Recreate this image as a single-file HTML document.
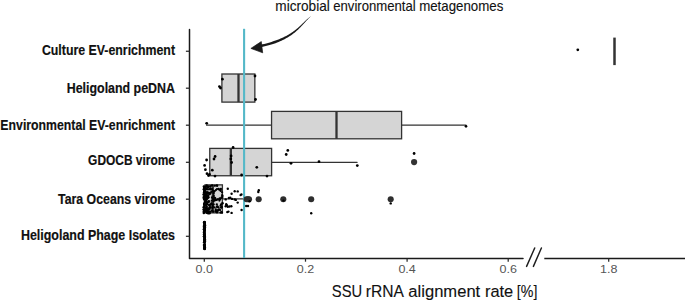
<!DOCTYPE html>
<html><head><meta charset="utf-8"><style>
html,body{margin:0;padding:0;background:#fff;width:685px;height:302px;overflow:hidden}
svg{display:block}
</style></head><body>
<svg width="685" height="302" viewBox="0 0 685 302">

<path d="M189.5,29.4 L189.5,258.4 L523,258.4" fill="none" stroke="#1a1a1a" stroke-width="1.5" stroke-linejoin="round" stroke-linecap="round"/>
<line x1="544.3" y1="258.4" x2="685" y2="258.4" stroke="#1a1a1a" stroke-width="1.5"/>
<line x1="526.6" y1="266.4" x2="534.7" y2="248.0" stroke="#1e1e1e" stroke-width="1.45" stroke-linecap="round"/>
<line x1="533.4" y1="266.4" x2="541.4" y2="248.0" stroke="#1e1e1e" stroke-width="1.45" stroke-linecap="round"/>
<line x1="185.9" y1="51.25" x2="189.5" y2="51.25" stroke="#2a2a2a" stroke-width="1.25"/>
<line x1="185.9" y1="88.2" x2="189.5" y2="88.2" stroke="#2a2a2a" stroke-width="1.25"/>
<line x1="185.9" y1="125.2" x2="189.5" y2="125.2" stroke="#2a2a2a" stroke-width="1.25"/>
<line x1="185.9" y1="162.3" x2="189.5" y2="162.3" stroke="#2a2a2a" stroke-width="1.25"/>
<line x1="185.9" y1="199.2" x2="189.5" y2="199.2" stroke="#2a2a2a" stroke-width="1.25"/>
<line x1="185.9" y1="236.3" x2="189.5" y2="236.3" stroke="#2a2a2a" stroke-width="1.25"/>
<line x1="204.3" y1="258.4" x2="204.3" y2="261.7" stroke="#2a2a2a" stroke-width="1.25"/>
<text transform="translate(204.3,273.4) scale(1.11,1)" text-anchor="middle" font-family="Liberation Sans, sans-serif" font-size="11.3" fill="#555">0.0</text>
<line x1="305.5" y1="258.4" x2="305.5" y2="261.7" stroke="#2a2a2a" stroke-width="1.25"/>
<text transform="translate(305.5,273.4) scale(1.11,1)" text-anchor="middle" font-family="Liberation Sans, sans-serif" font-size="11.3" fill="#555">0.2</text>
<line x1="407.1" y1="258.4" x2="407.1" y2="261.7" stroke="#2a2a2a" stroke-width="1.25"/>
<text transform="translate(407.1,273.4) scale(1.11,1)" text-anchor="middle" font-family="Liberation Sans, sans-serif" font-size="11.3" fill="#555">0.4</text>
<line x1="508.2" y1="258.4" x2="508.2" y2="261.7" stroke="#2a2a2a" stroke-width="1.25"/>
<text transform="translate(508.2,273.4) scale(1.11,1)" text-anchor="middle" font-family="Liberation Sans, sans-serif" font-size="11.3" fill="#555">0.6</text>
<line x1="608.7" y1="258.4" x2="608.7" y2="261.7" stroke="#2a2a2a" stroke-width="1.25"/>
<text transform="translate(608.7,273.4) scale(1.11,1)" text-anchor="middle" font-family="Liberation Sans, sans-serif" font-size="11.3" fill="#555">1.8</text>
<text transform="translate(175,54.8) scale(0.8833,1)" text-anchor="end" font-family="Liberation Sans, sans-serif" font-weight="bold" font-size="14" fill="#111" stroke="#111" stroke-width="0.18">Culture EV-enrichment</text>
<text transform="translate(175,92.9) scale(0.8877,1)" text-anchor="end" font-family="Liberation Sans, sans-serif" font-weight="bold" font-size="14" fill="#111" stroke="#111" stroke-width="0.18">Heligoland peDNA</text>
<text transform="translate(175,129.9) scale(0.8780,1)" text-anchor="end" font-family="Liberation Sans, sans-serif" font-weight="bold" font-size="14" fill="#111" stroke="#111" stroke-width="0.18">Environmental EV-enrichment</text>
<text transform="translate(175,164.9) scale(0.8534,1)" text-anchor="end" font-family="Liberation Sans, sans-serif" font-weight="bold" font-size="14" fill="#111" stroke="#111" stroke-width="0.18">GDOCB virome</text>
<text transform="translate(175,203.9) scale(0.8806,1)" text-anchor="end" font-family="Liberation Sans, sans-serif" font-weight="bold" font-size="14" fill="#111" stroke="#111" stroke-width="0.18">Tara Oceans virome</text>
<text transform="translate(175,239.5) scale(0.8885,1)" text-anchor="end" font-family="Liberation Sans, sans-serif" font-weight="bold" font-size="14" fill="#111" stroke="#111" stroke-width="0.18">Heligoland Phage Isolates</text>
<text transform="translate(331.81,296.9) scale(0.923,1)" font-family="Liberation Sans, sans-serif" font-size="16" fill="#111" stroke="#111" stroke-width="0.12">SSU</text>
<text transform="translate(365.81,296.9) scale(0.977,1)" font-family="Liberation Sans, sans-serif" font-size="16" fill="#111" stroke="#111" stroke-width="0.12">rRNA</text>
<text transform="translate(408.36,296.9) scale(1.036,1)" font-family="Liberation Sans, sans-serif" font-size="16" fill="#111" stroke="#111" stroke-width="0.12">alignment</text>
<text transform="translate(484.95,296.9) scale(1.025,1)" font-family="Liberation Sans, sans-serif" font-size="16" fill="#111" stroke="#111" stroke-width="0.12">rate</text>
<text transform="translate(516.80,296.9) scale(0.89,1)" font-family="Liberation Sans, sans-serif" font-size="16" fill="#111" stroke="#111" stroke-width="0.12">[%]</text>
<text transform="translate(275.33,10.7) scale(0.974,1)" font-family="Liberation Sans, sans-serif" font-size="14" fill="#111" stroke="#111" stroke-width="0.12">microbial</text>
<text transform="translate(333.27,10.7) scale(0.939,1)" font-family="Liberation Sans, sans-serif" font-size="14" fill="#111" stroke="#111" stroke-width="0.12">environmental</text>
<text transform="translate(419.15,10.7) scale(0.95,1)" font-family="Liberation Sans, sans-serif" font-size="14" fill="#111" stroke="#111" stroke-width="0.12">metagenomes</text>
<line x1="614.5" y1="37.6" x2="614.5" y2="65.1" stroke="#333" stroke-width="2.5"/>
<rect x="221.9" y="74.0" width="32.94999999999999" height="28.099999999999994" fill="#d5d5d5" stroke="#333333" stroke-width="1.3"/>
<line x1="238.5" y1="74.0" x2="238.5" y2="102.1" stroke="#333333" stroke-width="2.3"/>
<line x1="206.6" y1="125.15" x2="271.55" y2="125.15" stroke="#333333" stroke-width="1.25" stroke-linecap="round"/>
<line x1="401.6" y1="125.15" x2="466" y2="125.15" stroke="#333333" stroke-width="1.25" stroke-linecap="round"/>
<rect x="271.55" y="111.4" width="130.05" height="27.400000000000006" fill="#d5d5d5" stroke="#333333" stroke-width="1.3"/>
<line x1="336.5" y1="111.4" x2="336.5" y2="138.8" stroke="#333333" stroke-width="2.3"/>
<line x1="271.6" y1="162.3" x2="357.1" y2="162.3" stroke="#333333" stroke-width="1.25" stroke-linecap="round"/>
<rect x="209.76" y="148.4" width="61.84000000000003" height="27.349999999999994" fill="#d5d5d5" stroke="#333333" stroke-width="1.3"/>
<line x1="230.83" y1="148.4" x2="230.83" y2="175.75" stroke="#333333" stroke-width="2.3"/>
<line x1="222.4" y1="198.9" x2="242.5" y2="198.9" stroke="#333333" stroke-width="1.25" stroke-linecap="round"/>
<rect x="205" y="184.85" width="17.400000000000006" height="28.05000000000001" fill="#d5d5d5" stroke="#333333" stroke-width="1.3"/>
<line x1="212.8" y1="184.85" x2="212.8" y2="212.9" stroke="#333333" stroke-width="2.3"/>
<line x1="244.1" y1="28.8" x2="244.1" y2="258" stroke="#54b8c8" stroke-width="2.1"/>
<circle cx="577.8" cy="49.8" r="1.4" fill="#000"/>
<circle cx="222.4" cy="79.2" r="1.38" fill="#000"/>
<circle cx="219.4" cy="86.6" r="1.38" fill="#000"/>
<circle cx="220.5" cy="88.0" r="1.38" fill="#000"/>
<circle cx="255.0" cy="76.0" r="1.38" fill="#000"/>
<circle cx="255.5" cy="99.5" r="1.38" fill="#000"/>
<circle cx="206.7" cy="123.3" r="1.4" fill="#000"/>
<circle cx="466.0" cy="126.3" r="1.35" fill="#000"/>
<circle cx="233.1" cy="147.5" r="1.38" fill="#000"/>
<circle cx="231.1" cy="156.0" r="1.38" fill="#000"/>
<circle cx="231.6" cy="162.5" r="1.38" fill="#000"/>
<circle cx="230.8" cy="159.0" r="1.38" fill="#000"/>
<circle cx="215.1" cy="156.5" r="1.38" fill="#000"/>
<circle cx="214.0" cy="159.0" r="1.38" fill="#000"/>
<circle cx="206.6" cy="160.0" r="1.38" fill="#000"/>
<circle cx="204.6" cy="165.4" r="1.38" fill="#000"/>
<circle cx="205.4" cy="169.7" r="1.38" fill="#000"/>
<circle cx="212.3" cy="170.2" r="1.38" fill="#000"/>
<circle cx="207.0" cy="173.7" r="1.38" fill="#000"/>
<circle cx="209.5" cy="174.5" r="1.38" fill="#000"/>
<circle cx="208.5" cy="175.5" r="1.38" fill="#000"/>
<circle cx="215.0" cy="176.1" r="1.38" fill="#000"/>
<circle cx="241.6" cy="175.0" r="1.38" fill="#000"/>
<circle cx="256.8" cy="167.3" r="1.38" fill="#000"/>
<circle cx="267.0" cy="176.1" r="1.38" fill="#000"/>
<circle cx="287.8" cy="150.4" r="1.38" fill="#000"/>
<circle cx="286.2" cy="154.5" r="1.38" fill="#000"/>
<circle cx="291.0" cy="163.3" r="1.38" fill="#000"/>
<circle cx="319.0" cy="161.7" r="1.38" fill="#000"/>
<circle cx="357.3" cy="165.6" r="1.38" fill="#000"/>
<circle cx="414.1" cy="153.5" r="1.38" fill="#000"/>
<circle cx="414.1" cy="162.1" r="3.1" fill="#333"/>
<circle cx="206.0" cy="189.3" r="1.25" fill="#000"/>
<circle cx="208.2" cy="187.1" r="1.25" fill="#000"/>
<circle cx="207.4" cy="195.4" r="1.25" fill="#000"/>
<circle cx="204.2" cy="199.5" r="1.25" fill="#000"/>
<circle cx="204.1" cy="197.4" r="1.25" fill="#000"/>
<circle cx="204.3" cy="187.6" r="1.25" fill="#000"/>
<circle cx="206.6" cy="208.6" r="1.25" fill="#000"/>
<circle cx="204.6" cy="191.4" r="1.25" fill="#000"/>
<circle cx="208.0" cy="212.0" r="1.25" fill="#000"/>
<circle cx="207.7" cy="196.3" r="1.25" fill="#000"/>
<circle cx="210.3" cy="186.3" r="1.25" fill="#000"/>
<circle cx="209.6" cy="193.3" r="1.25" fill="#000"/>
<circle cx="204.8" cy="188.4" r="1.25" fill="#000"/>
<circle cx="205.9" cy="208.3" r="1.25" fill="#000"/>
<circle cx="205.0" cy="201.6" r="1.25" fill="#000"/>
<circle cx="208.1" cy="195.6" r="1.25" fill="#000"/>
<circle cx="207.5" cy="186.8" r="1.25" fill="#000"/>
<circle cx="204.2" cy="190.9" r="1.25" fill="#000"/>
<circle cx="208.4" cy="197.2" r="1.25" fill="#000"/>
<circle cx="205.9" cy="201.7" r="1.25" fill="#000"/>
<circle cx="206.8" cy="193.5" r="1.25" fill="#000"/>
<circle cx="209.1" cy="204.9" r="1.25" fill="#000"/>
<circle cx="205.4" cy="201.4" r="1.25" fill="#000"/>
<circle cx="207.3" cy="209.9" r="1.25" fill="#000"/>
<circle cx="208.7" cy="193.2" r="1.25" fill="#000"/>
<circle cx="210.4" cy="188.4" r="1.25" fill="#000"/>
<circle cx="206.6" cy="206.6" r="1.25" fill="#000"/>
<circle cx="204.8" cy="198.9" r="1.25" fill="#000"/>
<circle cx="204.1" cy="204.0" r="1.25" fill="#000"/>
<circle cx="208.9" cy="201.3" r="1.25" fill="#000"/>
<circle cx="209.7" cy="193.9" r="1.25" fill="#000"/>
<circle cx="208.5" cy="201.9" r="1.25" fill="#000"/>
<circle cx="207.7" cy="198.0" r="1.25" fill="#000"/>
<circle cx="209.4" cy="211.9" r="1.25" fill="#000"/>
<circle cx="207.0" cy="203.9" r="1.25" fill="#000"/>
<circle cx="204.2" cy="205.0" r="1.25" fill="#000"/>
<circle cx="208.1" cy="213.3" r="1.25" fill="#000"/>
<circle cx="209.3" cy="193.1" r="1.25" fill="#000"/>
<circle cx="206.4" cy="204.1" r="1.25" fill="#000"/>
<circle cx="204.0" cy="198.2" r="1.25" fill="#000"/>
<circle cx="204.9" cy="188.3" r="1.25" fill="#000"/>
<circle cx="204.2" cy="206.9" r="1.25" fill="#000"/>
<circle cx="204.7" cy="192.1" r="1.25" fill="#000"/>
<circle cx="206.4" cy="209.8" r="1.25" fill="#000"/>
<circle cx="204.3" cy="197.8" r="1.25" fill="#000"/>
<circle cx="207.5" cy="210.2" r="1.25" fill="#000"/>
<circle cx="209.3" cy="209.6" r="1.25" fill="#000"/>
<circle cx="205.7" cy="196.8" r="1.25" fill="#000"/>
<circle cx="206.2" cy="210.2" r="1.25" fill="#000"/>
<circle cx="210.2" cy="189.3" r="1.25" fill="#000"/>
<circle cx="205.0" cy="191.6" r="1.25" fill="#000"/>
<circle cx="205.4" cy="198.8" r="1.25" fill="#000"/>
<circle cx="207.7" cy="192.5" r="1.25" fill="#000"/>
<circle cx="203.8" cy="196.9" r="1.25" fill="#000"/>
<circle cx="206.3" cy="201.1" r="1.25" fill="#000"/>
<circle cx="210.2" cy="204.7" r="1.25" fill="#000"/>
<circle cx="207.3" cy="202.6" r="1.25" fill="#000"/>
<circle cx="208.3" cy="186.5" r="1.25" fill="#000"/>
<circle cx="209.8" cy="207.2" r="1.25" fill="#000"/>
<circle cx="209.7" cy="207.7" r="1.25" fill="#000"/>
<circle cx="206.4" cy="196.4" r="1.25" fill="#000"/>
<circle cx="204.5" cy="203.1" r="1.25" fill="#000"/>
<circle cx="204.2" cy="186.9" r="1.25" fill="#000"/>
<circle cx="205.2" cy="189.6" r="1.25" fill="#000"/>
<circle cx="206.1" cy="186.5" r="1.25" fill="#000"/>
<circle cx="203.8" cy="189.3" r="1.25" fill="#000"/>
<circle cx="204.5" cy="195.4" r="1.25" fill="#000"/>
<circle cx="204.0" cy="209.9" r="1.25" fill="#000"/>
<circle cx="207.9" cy="189.2" r="1.25" fill="#000"/>
<circle cx="205.5" cy="194.9" r="1.25" fill="#000"/>
<circle cx="206.2" cy="188.5" r="1.25" fill="#000"/>
<circle cx="209.5" cy="213.3" r="1.25" fill="#000"/>
<circle cx="206.9" cy="198.8" r="1.25" fill="#000"/>
<circle cx="204.4" cy="187.9" r="1.25" fill="#000"/>
<circle cx="206.1" cy="192.5" r="1.25" fill="#000"/>
<circle cx="220.7" cy="189.5" r="1.15" fill="#000"/>
<circle cx="210.8" cy="211.6" r="1.15" fill="#000"/>
<circle cx="217.0" cy="189.1" r="1.15" fill="#000"/>
<circle cx="217.2" cy="185.8" r="1.15" fill="#000"/>
<circle cx="217.0" cy="212.4" r="1.15" fill="#000"/>
<circle cx="221.1" cy="204.5" r="1.15" fill="#000"/>
<circle cx="213.7" cy="195.3" r="1.15" fill="#000"/>
<circle cx="212.6" cy="206.6" r="1.15" fill="#000"/>
<circle cx="217.1" cy="206.8" r="1.15" fill="#000"/>
<circle cx="214.6" cy="191.2" r="1.15" fill="#000"/>
<circle cx="220.5" cy="212.6" r="1.15" fill="#000"/>
<circle cx="221.0" cy="207.6" r="1.15" fill="#000"/>
<circle cx="220.6" cy="205.7" r="1.15" fill="#000"/>
<circle cx="213.3" cy="199.5" r="1.15" fill="#000"/>
<circle cx="214.9" cy="185.8" r="1.15" fill="#000"/>
<circle cx="210.8" cy="192.8" r="1.15" fill="#000"/>
<circle cx="213.7" cy="204.4" r="1.15" fill="#000"/>
<circle cx="222.3" cy="197.5" r="1.15" fill="#000"/>
<circle cx="222.0" cy="212.7" r="1.15" fill="#000"/>
<circle cx="222.2" cy="195.2" r="1.15" fill="#000"/>
<circle cx="213.2" cy="191.4" r="1.15" fill="#000"/>
<circle cx="212.9" cy="190.7" r="1.15" fill="#000"/>
<circle cx="218.2" cy="210.2" r="1.15" fill="#000"/>
<circle cx="220.8" cy="198.4" r="1.15" fill="#000"/>
<circle cx="218.5" cy="207.4" r="1.15" fill="#000"/>
<circle cx="211.5" cy="203.5" r="1.15" fill="#000"/>
<circle cx="221.7" cy="206.9" r="1.15" fill="#000"/>
<circle cx="219.7" cy="198.4" r="1.15" fill="#000"/>
<circle cx="212.7" cy="207.1" r="1.15" fill="#000"/>
<circle cx="214.6" cy="207.4" r="1.15" fill="#000"/>
<circle cx="222.5" cy="196.1" r="1.15" fill="#000"/>
<circle cx="215.4" cy="211.5" r="1.15" fill="#000"/>
<circle cx="219.4" cy="189.8" r="1.15" fill="#000"/>
<circle cx="212.1" cy="189.2" r="1.15" fill="#000"/>
<circle cx="221.6" cy="207.6" r="1.15" fill="#000"/>
<circle cx="212.3" cy="208.1" r="1.15" fill="#000"/>
<circle cx="222.6" cy="203.4" r="1.15" fill="#000"/>
<circle cx="214.8" cy="200.4" r="1.15" fill="#000"/>
<circle cx="212.1" cy="185.4" r="1.15" fill="#000"/>
<circle cx="222.4" cy="203.2" r="1.15" fill="#000"/>
<circle cx="217.0" cy="211.1" r="1.15" fill="#000"/>
<circle cx="215.8" cy="209.4" r="1.15" fill="#000"/>
<circle cx="220.7" cy="190.9" r="1.15" fill="#000"/>
<circle cx="213.6" cy="193.2" r="1.15" fill="#000"/>
<circle cx="213.5" cy="201.4" r="1.15" fill="#000"/>
<circle cx="213.7" cy="196.7" r="1.15" fill="#000"/>
<circle cx="212.1" cy="210.5" r="1.15" fill="#000"/>
<circle cx="214.9" cy="197.8" r="1.15" fill="#000"/>
<circle cx="217.7" cy="210.3" r="1.15" fill="#000"/>
<circle cx="215.7" cy="210.7" r="1.15" fill="#000"/>
<circle cx="216.7" cy="199.9" r="1.15" fill="#000"/>
<circle cx="216.9" cy="185.5" r="1.15" fill="#000"/>
<circle cx="215.9" cy="190.1" r="1.15" fill="#000"/>
<circle cx="210.5" cy="207.4" r="1.15" fill="#000"/>
<circle cx="212.6" cy="198.3" r="1.15" fill="#000"/>
<circle cx="219.4" cy="200.6" r="1.15" fill="#000"/>
<circle cx="214.5" cy="199.5" r="1.15" fill="#000"/>
<circle cx="217.3" cy="207.0" r="1.15" fill="#000"/>
<circle cx="211.8" cy="200.7" r="1.15" fill="#000"/>
<circle cx="213.6" cy="192.8" r="1.15" fill="#000"/>
<circle cx="220.0" cy="199.2" r="1.15" fill="#000"/>
<circle cx="217.4" cy="206.3" r="1.15" fill="#000"/>
<circle cx="221.7" cy="197.4" r="1.15" fill="#000"/>
<circle cx="218.0" cy="199.2" r="1.15" fill="#000"/>
<circle cx="216.8" cy="204.4" r="1.15" fill="#000"/>
<circle cx="216.1" cy="199.9" r="1.15" fill="#000"/>
<circle cx="216.4" cy="211.4" r="1.15" fill="#000"/>
<circle cx="219.1" cy="209.5" r="1.15" fill="#000"/>
<circle cx="222.1" cy="192.3" r="1.15" fill="#000"/>
<circle cx="217.4" cy="211.4" r="1.15" fill="#000"/>
<circle cx="220.8" cy="188.8" r="1.15" fill="#000"/>
<circle cx="212.0" cy="197.4" r="1.15" fill="#000"/>
<circle cx="211.4" cy="191.7" r="1.15" fill="#000"/>
<circle cx="211.4" cy="203.7" r="1.15" fill="#000"/>
<circle cx="220.1" cy="210.1" r="1.15" fill="#000"/>
<circle cx="212.4" cy="205.1" r="1.15" fill="#000"/>
<circle cx="218.6" cy="189.0" r="1.15" fill="#000"/>
<circle cx="221.4" cy="212.1" r="1.15" fill="#000"/>
<circle cx="213.2" cy="211.7" r="1.15" fill="#000"/>
<circle cx="215.4" cy="198.6" r="1.15" fill="#000"/>
<circle cx="208.0" cy="208.7" r="1.25" fill="#000"/>
<circle cx="204.2" cy="197.3" r="1.25" fill="#000"/>
<circle cx="205.8" cy="194.7" r="1.25" fill="#000"/>
<circle cx="204.4" cy="194.1" r="1.25" fill="#000"/>
<circle cx="206.7" cy="185.6" r="1.25" fill="#000"/>
<circle cx="206.0" cy="197.6" r="1.25" fill="#000"/>
<circle cx="203.6" cy="194.4" r="1.25" fill="#000"/>
<circle cx="206.3" cy="199.6" r="1.25" fill="#000"/>
<circle cx="203.8" cy="213.1" r="1.25" fill="#000"/>
<circle cx="207.0" cy="212.7" r="1.25" fill="#000"/>
<circle cx="204.0" cy="192.6" r="1.25" fill="#000"/>
<circle cx="203.7" cy="207.2" r="1.25" fill="#000"/>
<circle cx="204.7" cy="188.7" r="1.25" fill="#000"/>
<circle cx="205.4" cy="211.0" r="1.25" fill="#000"/>
<circle cx="207.2" cy="192.4" r="1.25" fill="#000"/>
<circle cx="204.2" cy="211.2" r="1.25" fill="#000"/>
<circle cx="206.1" cy="205.0" r="1.25" fill="#000"/>
<circle cx="203.9" cy="186.6" r="1.25" fill="#000"/>
<circle cx="206.6" cy="197.1" r="1.25" fill="#000"/>
<circle cx="203.8" cy="211.7" r="1.25" fill="#000"/>
<circle cx="206.4" cy="207.8" r="1.25" fill="#000"/>
<circle cx="203.9" cy="209.4" r="1.25" fill="#000"/>
<circle cx="203.8" cy="209.6" r="1.25" fill="#000"/>
<circle cx="205.5" cy="194.7" r="1.25" fill="#000"/>
<circle cx="206.0" cy="211.4" r="1.25" fill="#000"/>
<circle cx="227.8" cy="188.8" r="1.2" fill="#000"/>
<circle cx="231.6" cy="193.8" r="1.2" fill="#000"/>
<circle cx="234.7" cy="191.2" r="1.2" fill="#000"/>
<circle cx="237.7" cy="191.4" r="1.2" fill="#000"/>
<circle cx="240.6" cy="195.1" r="1.2" fill="#000"/>
<circle cx="241.4" cy="194.4" r="1.2" fill="#000"/>
<circle cx="225.7" cy="199.4" r="1.2" fill="#000"/>
<circle cx="228.9" cy="198.0" r="1.2" fill="#000"/>
<circle cx="230.3" cy="197.8" r="1.2" fill="#000"/>
<circle cx="232.1" cy="198.9" r="1.2" fill="#000"/>
<circle cx="234.7" cy="199.4" r="1.2" fill="#000"/>
<circle cx="235.8" cy="199.9" r="1.2" fill="#000"/>
<circle cx="237.7" cy="202.6" r="1.2" fill="#000"/>
<circle cx="226.2" cy="204.2" r="1.2" fill="#000"/>
<circle cx="226.8" cy="205.2" r="1.2" fill="#000"/>
<circle cx="225.7" cy="206.3" r="1.2" fill="#000"/>
<circle cx="227.8" cy="206.8" r="1.2" fill="#000"/>
<circle cx="229.4" cy="206.5" r="1.2" fill="#000"/>
<circle cx="231.3" cy="206.3" r="1.2" fill="#000"/>
<circle cx="227.3" cy="212.1" r="1.2" fill="#000"/>
<circle cx="228.4" cy="211.6" r="1.2" fill="#000"/>
<circle cx="231.6" cy="212.9" r="1.2" fill="#000"/>
<circle cx="241.6" cy="210.0" r="1.2" fill="#000"/>
<circle cx="246.6" cy="199.2" r="3.05" fill="#2e2e2e"/>
<circle cx="248.0" cy="199.2" r="3.05" fill="#2e2e2e"/>
<circle cx="249.0" cy="199.2" r="3.05" fill="#2e2e2e"/>
<circle cx="258.7" cy="199.2" r="3.05" fill="#2e2e2e"/>
<circle cx="283.3" cy="199.2" r="3.05" fill="#2e2e2e"/>
<circle cx="311.2" cy="199.2" r="3.05" fill="#2e2e2e"/>
<circle cx="390.7" cy="199.2" r="3.05" fill="#2e2e2e"/>
<circle cx="311.2" cy="213.2" r="1.2" fill="#000"/>
<circle cx="390.7" cy="203.4" r="1.2" fill="#000"/>
<circle cx="258.3" cy="192.0" r="1.2" fill="#000"/>
<circle cx="258.8" cy="190.3" r="1.2" fill="#000"/>
<circle cx="246.2" cy="206.0" r="1.2" fill="#000"/>
<circle cx="248.0" cy="206.0" r="1.2" fill="#000"/>
<circle cx="249.6" cy="201.2" r="1.2" fill="#000"/>
<circle cx="283.5" cy="200.6" r="1.2" fill="#000"/>
<circle cx="204.3" cy="225.4" r="1.2" fill="#000"/>
<circle cx="204.5" cy="228.4" r="1.2" fill="#000"/>
<circle cx="204.1" cy="226.3" r="1.2" fill="#000"/>
<circle cx="204.1" cy="227.4" r="1.2" fill="#000"/>
<circle cx="204.3" cy="230.2" r="1.2" fill="#000"/>
<circle cx="204.8" cy="229.8" r="1.2" fill="#000"/>
<circle cx="204.5" cy="226.7" r="1.2" fill="#000"/>
<circle cx="204.3" cy="222.3" r="1.2" fill="#000"/>
<circle cx="204.3" cy="222.2" r="1.2" fill="#000"/>
<circle cx="204.7" cy="237.1" r="1.2" fill="#000"/>
<circle cx="204.2" cy="235.0" r="1.2" fill="#000"/>
<circle cx="204.9" cy="224.7" r="1.2" fill="#000"/>
<circle cx="204.8" cy="233.8" r="1.2" fill="#000"/>
<circle cx="204.5" cy="244.9" r="1.2" fill="#000"/>
<circle cx="204.4" cy="235.8" r="1.2" fill="#000"/>
<circle cx="204.7" cy="249.0" r="1.2" fill="#000"/>
<circle cx="204.3" cy="244.9" r="1.2" fill="#000"/>
<circle cx="204.7" cy="239.4" r="1.2" fill="#000"/>
<circle cx="204.4" cy="231.4" r="1.2" fill="#000"/>
<circle cx="204.1" cy="225.4" r="1.2" fill="#000"/>
<circle cx="204.1" cy="242.3" r="1.2" fill="#000"/>
<circle cx="204.3" cy="226.3" r="1.2" fill="#000"/>
<circle cx="204.1" cy="245.1" r="1.2" fill="#000"/>
<circle cx="204.9" cy="240.4" r="1.2" fill="#000"/>
<circle cx="204.3" cy="228.5" r="1.2" fill="#000"/>
<circle cx="204.3" cy="234.5" r="1.2" fill="#000"/>
<circle cx="204.2" cy="234.1" r="1.2" fill="#000"/>
<circle cx="204.3" cy="248.4" r="1.2" fill="#000"/>
<circle cx="205.0" cy="237.0" r="1.2" fill="#000"/>
<circle cx="204.2" cy="248.5" r="1.2" fill="#000"/>
<circle cx="204.3" cy="231.7" r="1.2" fill="#000"/>
<circle cx="204.0" cy="232.4" r="1.2" fill="#000"/>
<circle cx="204.5" cy="235.7" r="1.2" fill="#000"/>
<circle cx="204.2" cy="235.8" r="1.2" fill="#000"/>
<circle cx="204.0" cy="229.1" r="1.2" fill="#000"/>
<circle cx="204.1" cy="232.9" r="1.2" fill="#000"/>
<circle cx="204.0" cy="222.4" r="1.2" fill="#000"/>
<circle cx="204.3" cy="228.2" r="1.2" fill="#000"/>
<circle cx="204.6" cy="236.5" r="1.2" fill="#000"/>
<circle cx="204.8" cy="240.0" r="1.2" fill="#000"/>
<circle cx="204.7" cy="246.2" r="1.2" fill="#000"/>
<circle cx="204.4" cy="230.8" r="1.2" fill="#000"/>
<circle cx="205.0" cy="225.9" r="1.2" fill="#000"/>
<circle cx="204.7" cy="239.6" r="1.2" fill="#000"/>
<circle cx="204.0" cy="244.9" r="1.2" fill="#000"/>
<circle cx="204.9" cy="239.2" r="1.2" fill="#000"/>
<circle cx="204.7" cy="244.3" r="1.2" fill="#000"/>
<circle cx="204.1" cy="236.3" r="1.2" fill="#000"/>
<circle cx="204.5" cy="244.9" r="1.2" fill="#000"/>
<circle cx="204.8" cy="244.7" r="1.2" fill="#000"/>
<circle cx="204.6" cy="246.5" r="1.2" fill="#000"/>
<circle cx="204.7" cy="241.0" r="1.2" fill="#000"/>
<circle cx="204.2" cy="222.7" r="1.2" fill="#000"/>
<circle cx="204.1" cy="231.8" r="1.2" fill="#000"/>
<circle cx="204.1" cy="245.0" r="1.2" fill="#000"/>
<circle cx="204.6" cy="239.2" r="1.2" fill="#000"/>
<circle cx="204.6" cy="240.7" r="1.2" fill="#000"/>
<circle cx="204.5" cy="221.9" r="1.2" fill="#000"/>
<circle cx="204.8" cy="242.5" r="1.2" fill="#000"/>
<circle cx="204.5" cy="236.6" r="1.2" fill="#000"/>
<circle cx="204.7" cy="223.6" r="1.2" fill="#000"/>
<circle cx="204.7" cy="228.8" r="1.2" fill="#000"/>
<circle cx="204.1" cy="229.2" r="1.2" fill="#000"/>
<circle cx="204.7" cy="227.5" r="1.2" fill="#000"/>
<circle cx="204.7" cy="248.8" r="1.2" fill="#000"/>
<circle cx="204.5" cy="232.4" r="1.2" fill="#000"/>
<circle cx="204.5" cy="240.7" r="1.2" fill="#000"/>
<circle cx="204.8" cy="238.9" r="1.2" fill="#000"/>
<circle cx="204.6" cy="223.9" r="1.2" fill="#000"/>
<circle cx="204.1" cy="228.8" r="1.2" fill="#000"/>
<circle cx="204.7" cy="230.2" r="1.2" fill="#000"/>
<circle cx="204.6" cy="222.1" r="1.2" fill="#000"/>
<circle cx="204.1" cy="229.2" r="1.2" fill="#000"/>
<circle cx="204.7" cy="241.0" r="1.2" fill="#000"/>
<circle cx="204.7" cy="229.9" r="1.2" fill="#000"/>
<circle cx="204.5" cy="234.7" r="1.2" fill="#000"/>
<circle cx="204.5" cy="225.1" r="1.2" fill="#000"/>
<circle cx="204.9" cy="227.3" r="1.2" fill="#000"/>
<circle cx="205.0" cy="247.7" r="1.2" fill="#000"/>
<circle cx="204.0" cy="234.5" r="1.2" fill="#000"/>
<circle cx="204.8" cy="248.6" r="1.2" fill="#000"/>
<circle cx="204.4" cy="229.2" r="1.2" fill="#000"/>
<circle cx="204.2" cy="248.0" r="1.2" fill="#000"/>
<circle cx="204.2" cy="237.9" r="1.2" fill="#000"/>
<circle cx="204.1" cy="236.3" r="1.2" fill="#000"/>
<circle cx="205.0" cy="225.5" r="1.2" fill="#000"/>
<circle cx="204.8" cy="235.9" r="1.2" fill="#000"/>
<circle cx="204.9" cy="241.3" r="1.2" fill="#000"/>
<circle cx="204.2" cy="246.7" r="1.2" fill="#000"/>
<circle cx="204.5" cy="222.5" r="1.2" fill="#000"/>
<path d="M310.76,16.44 L310.12,16.87 L309.49,17.33 L308.88,17.80 L308.27,18.28 L307.67,18.79 L307.07,19.30 L306.47,19.83 L305.88,20.37 L305.28,20.93 L304.69,21.49 L304.09,22.07 L303.48,22.65 L302.87,23.24 L302.25,23.84 L301.62,24.45 L300.98,25.06 L300.32,25.67 L299.65,26.29 L298.96,26.92 L298.25,27.54 L297.53,28.17 L296.78,28.81 L296.01,29.44 L295.22,30.07 L294.39,30.70 L293.54,31.33 L292.67,31.96 L291.75,32.59 L290.81,33.22 L289.83,33.84 L288.81,34.45 L287.76,35.07 L286.66,35.68 L285.53,36.28 L284.35,36.87 L283.12,37.46 L281.85,38.04 L280.52,38.61 L279.15,39.18 L277.73,39.73 L276.25,40.28 L274.71,40.82 L273.13,41.36 L271.48,41.89 L269.78,42.42 L268.00,42.92 L266.17,43.41 L264.26,43.89 L262.29,44.36 L260.25,44.80 L260.75,47.20 L262.83,46.74 L264.84,46.27 L266.78,45.79 L268.66,45.28 L270.47,44.76 L272.22,44.23 L273.91,43.69 L275.53,43.13 L277.10,42.54 L278.60,41.93 L280.05,41.32 L281.44,40.69 L282.78,40.05 L284.07,39.41 L285.32,38.75 L286.51,38.09 L287.66,37.43 L288.76,36.75 L289.83,36.08 L290.85,35.40 L291.83,34.71 L292.77,34.02 L293.68,33.34 L294.55,32.65 L295.39,31.96 L296.20,31.27 L296.98,30.58 L297.74,29.89 L298.46,29.21 L299.17,28.52 L299.85,27.85 L300.51,27.18 L301.15,26.51 L301.77,25.85 L302.38,25.19 L302.97,24.55 L303.56,23.91 L304.13,23.28 L304.69,22.66 L305.25,22.04 L305.80,21.44 L306.35,20.85 L306.90,20.27 L307.45,19.70 L308.00,19.15 L308.55,18.60 L309.11,18.07 L309.68,17.56 L310.26,17.05 L310.84,16.56 Z" fill="#1a1a1a"/>
<path d="M250.9,48.4 L261.3,41.6 L261.9,46.8 L262.7,52.8 Z" fill="#1a1a1a" stroke="#1a1a1a" stroke-width="0.7" stroke-linejoin="round"/>
</svg>
</body></html>
